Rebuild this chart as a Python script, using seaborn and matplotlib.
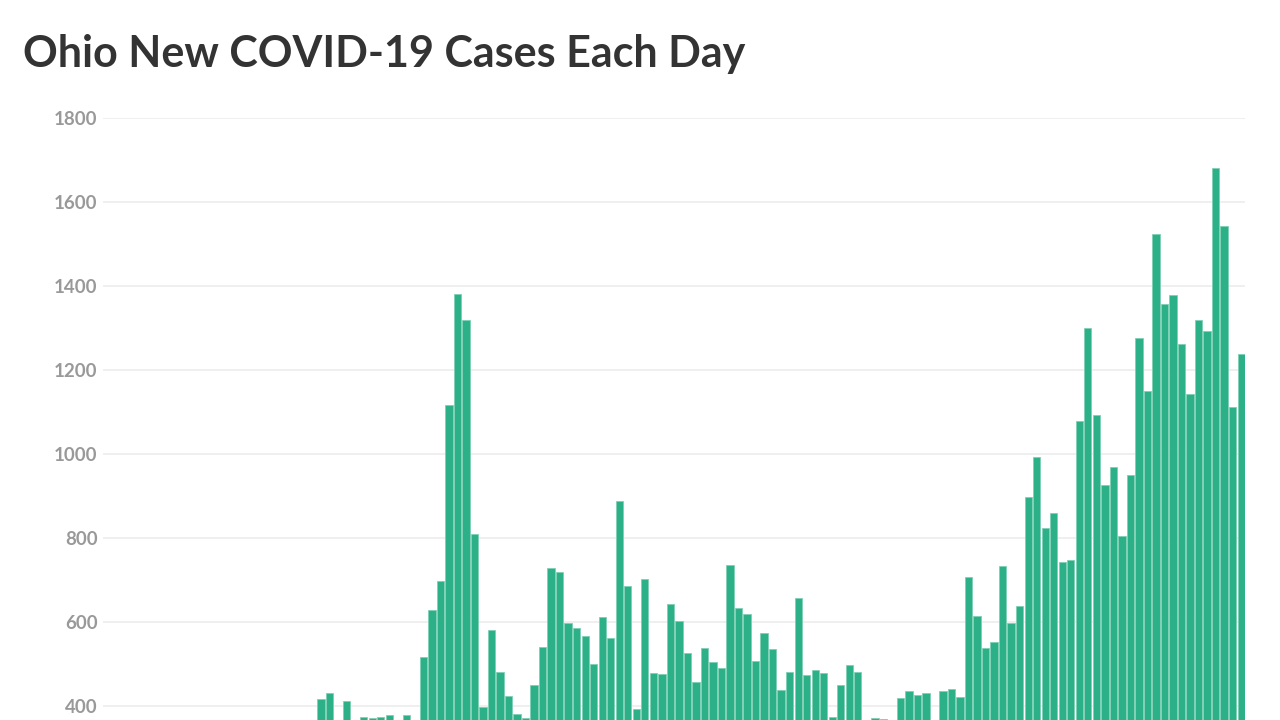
import matplotlib
matplotlib.use("Agg")
import matplotlib.pyplot as plt
import seaborn as sns
import pandas as pd

# Daily new cases (Mar 9 - Jul 20, 2020); values below ~367 are hidden below the crop
cases = [
    3, 0, 1, 1, 8, 11, 11, 17, 17, 31,
    31, 50, 78, 104, 91, 122, 140, 163, 160, 270,
    214, 247, 348, 348, 350,
    417, 432, 340, 413, 351, 373, 371, 373, 378, 345,
    378, 355, 517, 629, 698, 1117, 1382, 1319, 810, 398,
    582, 482, 425, 382, 371, 451, 540, 729, 720, 598,
    585, 566, 501, 613, 561, 888, 686, 392, 702, 479,
    477, 642, 603, 526, 456, 538, 505, 491, 736, 634,
    620, 508, 573, 535, 439, 482, 656, 475, 486, 478,
    375, 449, 497, 482, 350, 372, 369, 342, 420, 436,
    427, 430, 353, 435, 440, 422, 706, 615, 537, 553,
    734, 597, 639, 897, 992, 823, 859, 742, 748, 1078,
    1301, 1092, 927, 969, 805, 949, 1277, 1151, 1525, 1358,
    1379, 1262, 1143, 1318, 1292, 1680, 1544, 1111, 1237,
]
dates = [d.strftime("%Y-%m-%d") for d in pd.date_range("2020-03-09", periods=len(cases))]
y_ticks = [400, 600, 800, 1000, 1200, 1400, 1600, 1800]
title = "Ohio New COVID-19 Cases Each Day"

sns.set_theme(style="white")
plt.rcParams["font.family"] = ["Lato", "DejaVu Sans"]

W, H = 1280, 720
fig = plt.figure(figsize=(12.8, 7.2), dpi=100)
fig.patch.set_facecolor("white")
# axes: x from 103 to 1245 px; value 0 at y=874 px, 1800 at y=118 px (chart cropped at bottom)
ax = fig.add_axes([103 / W, (H - 874) / H, (1245 - 103) / W, (874 - 118) / H])

df = pd.DataFrame({"date": dates, "cases": cases})
sns.barplot(data=df, x="date", y="cases", color="#2bb087", saturation=1,
            width=0.86, edgecolor="#7fd0b4", linewidth=0.6, ax=ax, zorder=3)

ax.set_ylim(0, 1800)
ax.set_xlim(-0.6, len(cases) - 0.55)
ax.set_yticks(y_ticks)
ax.set_yticklabels([str(v) for v in y_ticks])
ax.set_xticks([])
ax.set_xlabel("")
ax.set_ylabel("")
ax.grid(axis="y", color="#ececec", linewidth=1.2, zorder=0)
ax.grid(axis="x", visible=False)
for s in ax.spines.values():
    s.set_visible(False)
ax.tick_params(axis="y", length=0, pad=4, labelsize=13.5, labelcolor="#999999")
for lab in ax.get_yticklabels():
    lab.set_fontweight("bold")

fig.text(23 / W, 1 - 67 / H, title, fontsize=31, fontweight="bold",
         color="#333333", ha="left", va="baseline")

fig.savefig("out.png", dpi=100)
